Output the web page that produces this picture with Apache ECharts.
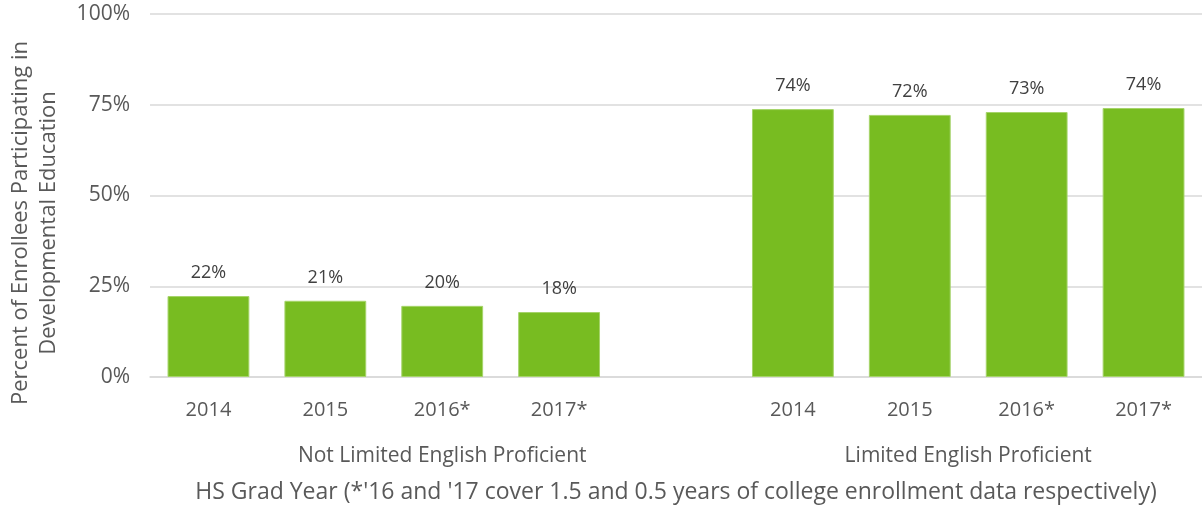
<!DOCTYPE html>
<html>
<head>
<meta charset="utf-8">
<script src="https://cdn.jsdelivr.net/npm/echarts@6/dist/echarts.min.js"></script>
<style>
  html, body { margin: 0; padding: 0; background: #fff; }
  #chart { width: 1202px; height: 509px; }
</style>
</head>
<body>
<div id="chart"></div>
<script>
// categories: two groups of grad years, with one empty slot between them
const years = ['2014', '2015', '2016*', '2017*', '', '2014', '2015', '2016*', '2017*']
const participation = [22.3, 21.0, 19.6, 17.9, '-', 73.8, 72.2, 73.0, 74.1]
const groupNames = ['Not Limited English Proficient', 'Limited English Proficient']
// group centres on a 0..9 scale (group 1 spans slots 0-4, group 2 spans slots 5-8)
const groupCenters = [2.5, 7]
const yTicks = [0, 25, 50, 75, 100]

const textColor = '#595959'
const font = 'Open Sans'

const chart = echarts.init(document.getElementById('chart'))
chart.setOption({
  animation: false,
  textStyle: { fontFamily: font },
  grid: { left: 150, right: 0, top: 14, bottom: 132, outerBoundsMode: 'none' },
  xAxis: [{
    type: 'category',
    data: years,
    axisLine: { lineStyle: { color: '#d9d9d9', width: 1.5 } },
    axisTick: { show: false },
    axisLabel: { color: textColor, fontSize: 20, margin: 23, interval: 0 },
    name: "HS Grad Year (*'16 and '17 cover 1.5 and 0.5 years of college enrollment data respectively)",
    nameLocation: 'middle',
    nameGap: 104,
    nameTextStyle: { color: textColor, fontSize: 23, fontFamily: font }
  }, {
    type: 'value',
    position: 'bottom',
    min: 0,
    max: 9,
    interval: 0.5,
    axisLine: { show: false },
    axisTick: { show: false },
    splitLine: { show: false },
    axisLabel: {
      color: textColor,
      fontSize: 21,
      margin: 69,
      showMinLabel: true,
      showMaxLabel: true,
      formatter: v => {
        const i = groupCenters.indexOf(v)
        return i >= 0 ? groupNames[i] : ''
      }
    }
  }],
  yAxis: {
    type: 'value',
    min: yTicks[0],
    max: yTicks[yTicks.length - 1],
    interval: 25,
    axisLine: { show: false },
    axisTick: { show: false },
    axisLabel: { color: textColor, fontSize: 21, margin: 20, formatter: '{value}%' },
    splitLine: { lineStyle: { color: '#d9d9d9', width: 1.5 } }
  },
  graphic: [{
    type: 'text',
    x: 35,
    y: 223,
    rotation: Math.PI / 2,
    style: {
      text: 'Percent of Enrollees Participating in\nDevelopmental Education',
      fill: textColor,
      font: '22px "Open Sans"',
      align: 'center',
      verticalAlign: 'middle',
      lineHeight: 28
    }
  }],
  series: [{
    type: 'bar',
    xAxisIndex: 0,
    data: participation,
    barWidth: '70%',
    itemStyle: { color: '#78bc21', borderColor: '#a6d46a', borderWidth: 1 },
    label: {
      show: true,
      position: 'top',
      distance: 14,
      color: '#404040',
      fontSize: 18,
      formatter: p => Math.round(p.value) + '%'
    }
  }]
})
</script>
</body>
</html>
